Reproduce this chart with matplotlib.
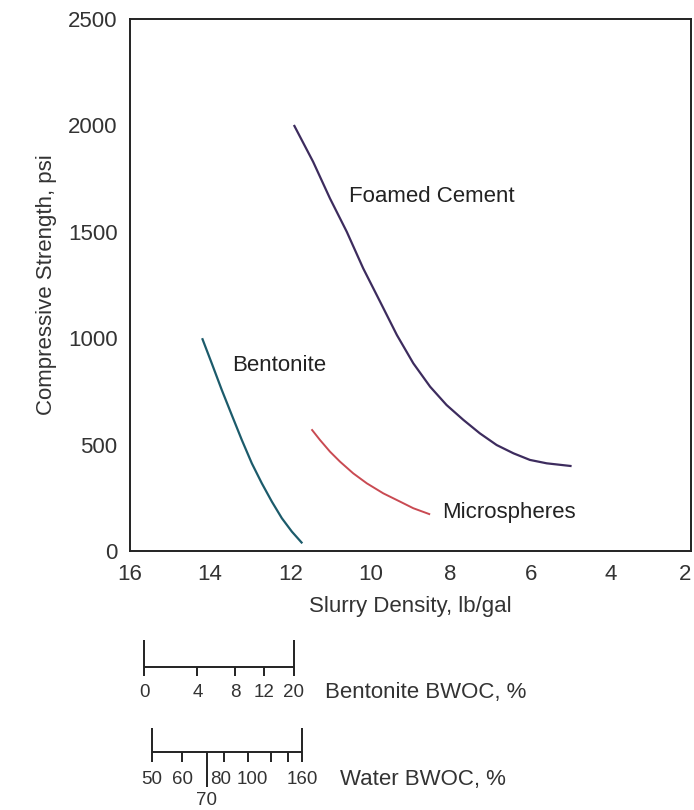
import numpy as np
import matplotlib.pyplot as plt

plt.rcParams['font.family'] = ['Liberation Sans', 'DejaVu Sans']

# curves: slurry density (lb/gal) vs compressive strength (psi)
foam_x = [11.91, 11.43, 11.01, 10.59, 10.18, 9.76, 9.34, 8.93, 8.51, 8.10,
          7.68, 7.27, 6.85, 6.43, 6.02, 5.60, 4.98]
foam_y = [2002, 1829, 1657, 1500, 1328, 1172, 1015, 882, 772, 686,
          616, 553, 498, 459, 428, 412, 399]

bent_x = [14.20, 13.96, 13.71, 13.46, 13.21, 12.96, 12.71, 12.46, 12.21,
          11.96, 11.70]
bent_y = [1000, 882, 757, 639, 522, 412, 318, 232, 154, 91, 36]

micro_x = [11.47, 11.26, 11.01, 10.76, 10.43, 10.09, 9.68, 9.26, 8.93, 8.51]
micro_y = [572, 522, 467, 420, 365, 318, 271, 232, 201, 172]

# auxiliary scales (density position of each tick)
bwoc_vals = ['0', '4', '8', '12', '20']
bwoc_dens = [15.65, 14.32, 13.38, 12.66, 11.91]

water_vals = [50, 60, 70, 80, 100, 120, 140, 160]
water_dens = [15.45, 14.70, 14.08, 13.65, 13.06, 12.48, 12.06, 11.71]
water_labels = ['50', '60', '70', '80', '100', '', '', '160']

W, H = 694, 810
fig = plt.figure(figsize=(W / 100, H / 100), dpi=100)

left, right, top, bottom = 130, 691, 19, 551
ax = fig.add_axes([left / W, 1 - bottom / H, (right - left) / W, (bottom - top) / H])

line_kw = dict(solid_capstyle='butt', solid_joinstyle='round')
ax.plot(foam_x, foam_y, color='#3d2c5e', lw=1.6, **line_kw)
ax.plot(bent_x, bent_y, color='#1c5b6b', lw=1.6, **line_kw)
ax.plot(micro_x, micro_y, color='#c94a52', lw=1.4, **line_kw)

ax.text(10.53, 1664, 'Foamed Cement', fontsize=16, va='center', ha='left', color='#222222')
ax.text(13.45, 874, 'Bentonite', fontsize=16, va='center', ha='left', color='#222222')
ax.text(8.21, 183, 'Microspheres', fontsize=16, va='center', ha='left', color='#222222')

ax.set_xlim(16, 2)
ax.set_ylim(0, 2500)
ax.set_xticks(np.arange(16, 1, -2))
ax.set_yticks(np.arange(0, 2501, 500))
ax.tick_params(length=0, labelsize=16, labelcolor='#333333')
ax.tick_params(axis='x', pad=9)
ax.tick_params(axis='y', pad=9)
ax.get_xticklabels()[-1].set_horizontalalignment('right')
ax.set_xlabel('Slurry Density, lb/gal', fontsize=16, color='#333333', labelpad=8)
ax.set_ylabel('Compressive Strength, psi', fontsize=16, color='#333333', labelpad=8)
for s in ax.spines.values():
    s.set_linewidth(1.4)
    s.set_color('#222222')

# lower axes for the BWOC scales, y in pixel rows of the figure
lo = fig.add_axes([left / W, 0, (right - left) / W, (H - 600) / H])
lo.set_xlim(16, 2)
lo.set_ylim(H, 600)
lo.axis('off')

k = dict(color='#222222', lw=1.4, solid_capstyle='butt')
fs = 13.5
# bentonite scale
lo.plot([bwoc_dens[0], bwoc_dens[-1]], [667, 667], **k)
for i, d in enumerate(bwoc_dens):
    if i in (0, len(bwoc_dens) - 1):
        lo.plot([d, d], [640, 676], **k)
    else:
        lo.plot([d, d], [667, 676], **k)
    lo.text(d, 693, bwoc_vals[i], fontsize=fs, ha='center', va='center', color='#333333')
lo.text(11.13, 693, 'Bentonite BWOC, %', fontsize=16, ha='left', va='center', color='#333333')

# water scale
lo.plot([water_dens[0], water_dens[-1]], [752, 752], **k)
for i, d in enumerate(water_dens):
    v = water_vals[i]
    if i in (0, len(water_dens) - 1):
        lo.plot([d, d], [728, 762], **k)
    elif v == 70:
        lo.plot([d, d], [752, 787], **k)
    else:
        lo.plot([d, d], [752, 762], **k)
    lab = water_labels[i]
    if v == 70:
        lo.text(d, 801, lab, fontsize=fs, ha='center', va='center', color='#333333')
    elif v == 80:
        lo.text(d + 0.08, 780, lab, fontsize=fs, ha='center', va='center', color='#333333')
    elif v == 100:
        lo.text(d - 0.1, 780, lab, fontsize=fs, ha='center', va='center', color='#333333')
    elif lab:
        lo.text(d, 780, lab, fontsize=fs, ha='center', va='center', color='#333333')
lo.text(10.76, 780, 'Water BWOC, %', fontsize=16, ha='left', va='center', color='#333333')

fig.savefig('out.png', dpi=100)
